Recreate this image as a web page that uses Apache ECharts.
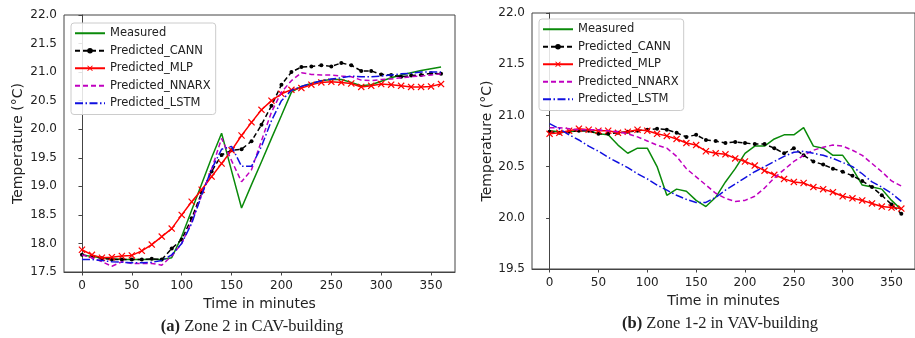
<!DOCTYPE html>
<html>
<head>
<meta charset="utf-8">
<script src="https://cdn.jsdelivr.net/npm/echarts@6/dist/echarts.min.js"></script>
<style>html,body{margin:0;padding:0;background:#fff;}#c{width:915px;height:338px;}</style>
</head>
<body>
<div id="c"></div>
<script>
const minutes = [0,10,20,30,40,50,60,70,80,90,100,110,120,130,140,150,160,170,180,190,200,210,220,230,240,250,260,270,280,290,300,310,320,330,340,350,360];
const xTicks = [0,50,100,150,200,250,300,350];
const seriesNames = ['Measured','Predicted_CANN','Predicted_MLP','Predicted_NNARX','Predicted_LSTM'];

// (a) Zone 2 in CAV-building
const cavMeasured = [17.80,17.77,17.75,17.73,17.72,17.72,17.72,17.72,17.72,17.75,18.12,18.58,19.04,19.50,19.93,19.27,18.62,19.03,19.43,19.84,20.24,20.65,20.75,20.80,20.85,20.87,20.87,20.82,20.76,20.78,20.84,20.90,20.95,20.99,21.03,21.06,21.09];
const cavCANN = [17.80,17.77,17.74,17.72,17.72,17.72,17.72,17.73,17.72,17.91,18.07,18.44,18.89,19.26,19.55,19.63,19.65,19.79,20.08,20.41,20.78,21.00,21.09,21.10,21.12,21.10,21.16,21.12,21.02,21.02,20.96,20.95,20.92,20.94,20.95,20.98,20.97];
const cavMLP = [17.89,17.80,17.75,17.76,17.78,17.79,17.87,17.98,18.12,18.26,18.50,18.73,18.94,19.17,19.40,19.63,19.89,20.12,20.34,20.50,20.62,20.69,20.72,20.78,20.82,20.83,20.82,20.80,20.74,20.76,20.79,20.78,20.76,20.74,20.74,20.75,20.79];
const cavNNARX = [17.80,17.75,17.68,17.60,17.68,17.65,17.65,17.65,17.62,17.78,18.00,18.38,18.85,19.30,19.84,19.45,19.08,19.29,19.80,20.30,20.65,20.85,20.99,20.96,20.95,20.95,20.93,20.92,20.86,20.85,20.87,20.88,20.90,20.92,20.93,20.95,20.97];
const cavLSTM = [17.72,17.72,17.70,17.68,17.67,17.66,17.66,17.67,17.70,17.80,18.00,18.35,18.85,19.30,19.65,19.70,19.35,19.35,19.70,20.15,20.50,20.68,20.75,20.80,20.85,20.88,20.90,20.93,20.92,20.92,20.93,20.95,20.97,20.98,21.00,21.00,21.00];

// (b) Zone 1-2 in VAV-building
const vavMeasured = [20.85,20.84,20.84,20.85,20.85,20.82,20.81,20.71,20.63,20.68,20.68,20.50,20.22,20.28,20.26,20.17,20.11,20.20,20.35,20.48,20.63,20.70,20.70,20.77,20.81,20.81,20.88,20.70,20.68,20.61,20.61,20.48,20.32,20.30,20.28,20.17,20.08];
const vavCANN = [20.84,20.83,20.84,20.85,20.85,20.82,20.82,20.83,20.84,20.85,20.86,20.87,20.86,20.83,20.79,20.81,20.76,20.75,20.73,20.74,20.73,20.72,20.72,20.68,20.63,20.68,20.61,20.55,20.52,20.48,20.45,20.41,20.36,20.30,20.22,20.13,20.04];
const vavMLP = [20.82,20.83,20.85,20.87,20.86,20.85,20.85,20.83,20.84,20.86,20.85,20.82,20.80,20.77,20.73,20.71,20.65,20.63,20.62,20.58,20.55,20.51,20.46,20.42,20.38,20.35,20.34,20.30,20.28,20.25,20.21,20.19,20.17,20.14,20.11,20.10,20.09];
const vavNNARX = [20.88,20.88,20.87,20.86,20.86,20.86,20.85,20.84,20.82,20.79,20.75,20.71,20.68,20.60,20.48,20.40,20.32,20.24,20.19,20.16,20.17,20.21,20.29,20.39,20.47,20.55,20.61,20.66,20.69,20.71,20.70,20.66,20.61,20.53,20.45,20.36,20.31];
const vavLSTM = [20.92,20.87,20.81,20.76,20.70,20.65,20.59,20.54,20.49,20.43,20.38,20.32,20.27,20.22,20.18,20.15,20.15,20.20,20.27,20.33,20.39,20.45,20.50,20.55,20.60,20.64,20.65,20.63,20.61,20.58,20.54,20.50,20.43,20.35,20.30,20.24,20.16];

const FONT = 'DejaVu Sans';
const AX = '#444';
const TXT = '#222';
const xPath = 'path://M0,1.2L1.2,0L5,3.8L8.8,0L10,1.2L6.2,5L10,8.8L8.8,10L5,6.2L1.2,10L0,8.8L3.8,5Z';

const styles = [
  {color:'#0a8a0a', type:'solid', symbol:'none', size:0},
  {color:'#000000', type:[5,3], symbol:'circle', size:4},
  {color:'#ff0000', type:'solid', symbol:xPath, size:7},
  {color:'#c000c0', type:[5,3], symbol:'none', size:0},
  {color:'#1010e0', type:[8,2.5,1.5,2.5], symbol:'none', size:0}
];

function pairs(vals){ return minutes.map((t,i)=>[t, vals[i]]); }

function mkSeries(arrs, idx){
  return arrs.map((vals,k)=>({
    type:'line', name:seriesNames[k], xAxisIndex:idx, yAxisIndex:idx,
    data:pairs(vals),
    symbol:styles[k].symbol, symbolSize:styles[k].size, showSymbol: styles[k].symbol!=='none',
    lineStyle:{color:styles[k].color, width:1.5, type:styles[k].type},
    itemStyle:{color:styles[k].color},
    emphasis:{disabled:true}, animation:false, z: 2 + k
  }));
}

function xAxis(idx){
  return {
    type:'value', gridIndex:idx, min:-18, max:374,
    name:'Time in minutes', nameLocation:'middle', nameGap:24,
    nameTextStyle:{fontFamily:FONT, fontSize:14, color:TXT},
    axisLine:{show:true, lineStyle:{color:AX, width:1}},
    axisTick:{show:true, length:3.5, lineStyle:{color:AX}, customValues:xTicks},
    axisLabel:{fontFamily:FONT, fontSize:12, color:TXT, margin:8, customValues:xTicks},
    splitLine:{show:false}
  };
}
function yAxis(idx, mn, mx, gap){
  return {
    type:'value', gridIndex:idx, min:mn, max:mx, interval:0.5,
    name:'Temperature (°C)', nameLocation:'middle', nameGap:gap,
    nameTextStyle:{fontFamily:FONT, fontSize:14, color:TXT},
    axisLine:{show:true, lineStyle:{color:AX, width:1}},
    axisTick:{show:true, length:3.5, lineStyle:{color:AX}},
    axisLabel:{fontFamily:FONT, fontSize:12, color:TXT, margin:7, formatter:v=>v.toFixed(1)},
    splitLine:{show:false}
  };
}
const hideSym = {color:'rgba(0,0,0,0)', borderColor:'rgba(0,0,0,0)', borderWidth:0};
function legendData(){
  return seriesNames.map((n,k)=> styles[k].symbol==='none' ? {name:n, itemStyle:hideSym} : {name:n});
}
function legend(left, top){
  return {
    orient:'vertical', left:left, top:top, data:legendData(),
    itemWidth:30, itemHeight:7, itemGap:5,
    padding:[4,5,5,3],
    backgroundColor:'rgba(255,255,255,0.85)', borderColor:'#cccccc', borderWidth:1, borderRadius:3,
    textStyle:{fontFamily:FONT, fontSize:11.5, color:TXT, lineHeight:12.5},
    selectedMode:false
  };
}

const chart = echarts.init(document.getElementById('c'), null, {renderer:'canvas'});
chart.setOption({
  animation:false,
  backgroundColor:'#ffffff',
  grid:[
    {left:64, top:15, width:391, height:257, show:true, borderColor:AX, borderWidth:1, backgroundColor:'transparent'},
    {left:532, top:13, width:391, height:256, show:true, borderColor:AX, borderWidth:1, backgroundColor:'transparent'}
  ],
  xAxis:[xAxis(0), xAxis(1)],
  yAxis:[yAxis(0,17.5,22,39), yAxis(1,19.5,22,37)],
  legend:[legend(71,23), legend(539,19)],
  series:[].concat(
    mkSeries([cavMeasured,cavCANN,cavMLP,cavNNARX,cavLSTM],0),
    mkSeries([vavMeasured,vavCANN,vavMLP,vavNNARX,vavLSTM],1)
  ),
  graphic:[
    {type:'text', x:252, y:327, silent:true, style:{
      text:'{b|(a)} Zone 2 in CAV-building', align:'center', verticalAlign:'middle',
      fontFamily:'Liberation Serif', fontSize:16.5, fill:'#222',
      rich:{b:{fontFamily:'Liberation Serif', fontSize:16.5, fontWeight:'bold', fill:'#222'}}
    }},
    {type:'text', x:720, y:324, silent:true, style:{
      text:'{b|(b)} Zone 1-2 in VAV-building', align:'center', verticalAlign:'middle',
      fontFamily:'Liberation Serif', fontSize:16.5, fill:'#222',
      rich:{b:{fontFamily:'Liberation Serif', fontSize:16.5, fontWeight:'bold', fill:'#222'}}
    }}
  ]
});
</script>
</body>
</html>
